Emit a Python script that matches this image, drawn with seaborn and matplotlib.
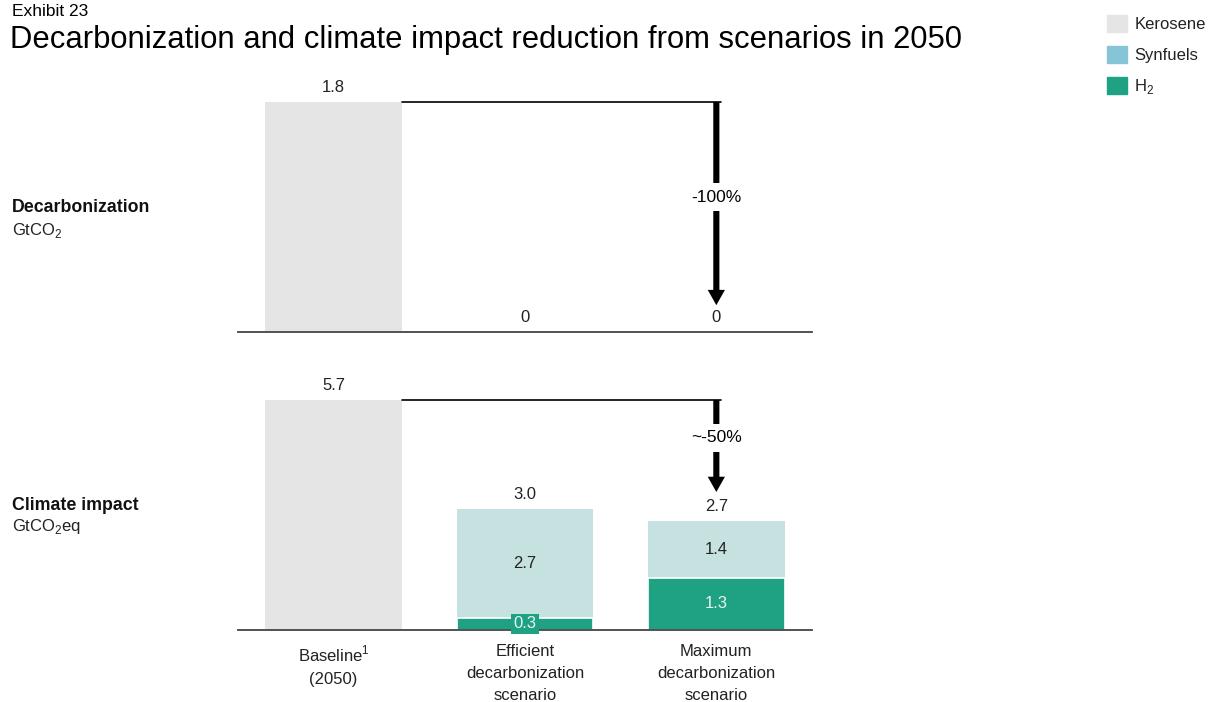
import matplotlib
matplotlib.use('Agg')
import numpy as np
import pandas as pd
import matplotlib.pyplot as plt
import seaborn as sns
from matplotlib.patches import Patch

# data
scenarios = ['Baseline$^1$\n(2050)', 'Efficient\ndecarbonization\nscenario',
             'Maximum\ndecarbonization\nscenario']
decarb_kerosene = [1.8, 0, 0]
decarb_synfuels = [0, 0, 0]
decarb_h2 = [0, 0, 0]
climate_kerosene = [5.7, 0, 0]
climate_synfuels = [0, 2.7, 1.4]
climate_h2 = [0, 0.3, 1.3]
decarb_change = '-100%'
climate_change = '~-50%'

c_kero = '#e5e5e5'
c_syn = '#c5e1e0'
c_syn_leg = '#86c5d6'
c_h2 = '#1fa283'
c_txt = '#222222'

sns.set_theme(style='white')
plt.rcParams['font.family'] = ['Liberation Sans', 'DejaVu Sans']
plt.rcParams['mathtext.fontset'] = 'custom'
plt.rcParams['mathtext.rm'] = 'Liberation Sans'

W, H = 1211, 702
fig = plt.figure(figsize=(W / 100, H / 100), dpi=100)

def px_axes(left, right, bottom, top):
    return fig.add_axes([left / W, 1 - bottom / H, (right - left) / W, (bottom - top) / H])

ax_top = px_axes(238, 812, 332, 80)
ax_bot = px_axes(238, 812, 630, 380)

bar_w = 0.715

def draw_panel(ax, kero, syn, h2, ymax, inner):
    df = pd.DataFrame({'scenario': scenarios, 'kero': kero, 'syn': syn, 'h2': h2})
    df['total'] = df['kero'] + df['syn'] + df['h2']
    df['h2syn'] = df['h2'] + df['syn']
    # stacked bars drawn as cumulative layers
    sns.barplot(data=df, x='scenario', y='total', color=c_kero, width=bar_w,
                saturation=1, ax=ax, edgecolor='white', linewidth=0)
    sns.barplot(data=df, x='scenario', y='h2syn', color=c_syn, width=bar_w,
                saturation=1, ax=ax, edgecolor='white', linewidth=0)
    sns.barplot(data=df, x='scenario', y='h2', color=c_h2, width=bar_w,
                saturation=1, ax=ax, edgecolor='white', linewidth=1.2)
    ax.set_xlim(-0.5, 2.5)
    ax.set_ylim(0, ymax)
    ax.set_xlabel('')
    ax.set_ylabel('')
    ax.set_yticks([])
    for s in ['top', 'left', 'right']:
        ax.spines[s].set_visible(False)
    ax.spines['bottom'].set_color('#444444')
    ax.spines['bottom'].set_linewidth(1.3)
    # totals above bars
    for i, t in enumerate(df['total']):
        lab = '0' if t == 0 else f'{t:.1f}'
        ax.annotate(lab, (i, t), xytext=(0, 5), textcoords='offset points',
                    ha='center', va='bottom', fontsize=12, color=c_txt)
    if inner:
        for i in range(len(df)):
            s, h = df['syn'][i], df['h2'][i]
            if s > 0:
                ax.text(i, h + s / 2, f'{s:.1f}', ha='center', va='center',
                        fontsize=12, color=c_txt)
            if h > 0:
                if h < 0.5:
                    ax.text(i, h / 2, f'{h:.1f}', ha='center', va='center',
                            fontsize=12, color='#e8f4ef',
                            bbox=dict(boxstyle='square,pad=0.15', fc=c_h2, ec='none'))
                else:
                    ax.text(i, h / 2, f'{h:.1f}', ha='center', va='center',
                            fontsize=12, color='#e8f4ef')
    return df

def draw_change(ax, base, tip, label_y, label):
    ax.plot([bar_w / 2, 2.025], [base, base], color='black', lw=1.2, clip_on=False)
    ax.annotate('', xy=(2, tip), xytext=(2, base),
                arrowprops=dict(arrowstyle='simple,head_width=0.62,head_length=0.55,tail_width=0.22',
                                lw=0, fc='black', ec='none', shrinkA=0, shrinkB=0,
                                mutation_scale=20))
    ax.text(2, label_y, label, ha='center', va='center', fontsize=12.5,
            color='black',
            bbox=dict(boxstyle='square,pad=0.35', fc='white', ec='none'))

draw_panel(ax_top, decarb_kerosene, decarb_synfuels, decarb_h2, 1.8 * 252 / 230, False)
draw_panel(ax_bot, climate_kerosene, climate_synfuels, climate_h2, 5.7 * 250 / 230, True)
ax_top.set_xticklabels([])
ax_bot.tick_params(axis='x', length=0, pad=10, labelsize=12, labelcolor=c_txt)
for t in ax_bot.get_xticklabels():
    t.set_linespacing(1.6)

draw_change(ax_top, sum(decarb_kerosene), 0.21, 1.056, decarb_change)
draw_change(ax_bot, sum(climate_kerosene), 3.42, 4.76, climate_change)

# titles
fig.text(12 / W, 1 - 11 / H, 'Exhibit 23', fontsize=12.5, color='black', va='center', ha='left')
fig.text(10 / W, 1 - 40 / H, 'Decarbonization and climate impact reduction from scenarios in 2050',
         fontsize=22.3, color='black', va='center', ha='left')

fig.text(12 / W, 1 - 208 / H, 'Decarbonization', fontsize=12.8, fontweight='bold',
         color='#111111', va='center')
fig.text(12 / W, 1 - 230 / H, 'GtCO$_2$', fontsize=12, color=c_txt, va='center')
fig.text(12 / W, 1 - 505 / H, 'Climate impact', fontsize=12.8, fontweight='bold',
         color='#111111', va='center')
fig.text(12 / W, 1 - 527 / H, 'GtCO$_2$eq', fontsize=12, color=c_txt, va='center')

handles = [Patch(color=c_kero), Patch(color=c_syn_leg), Patch(color=c_h2)]
fig.legend(handles, ['Kerosene', 'Synfuels', 'H$_2$'], loc='upper left',
           bbox_to_anchor=(1107 / W, 1 - 15 / H), frameon=False, fontsize=12,
           handlelength=1.2, handleheight=1.2, handletextpad=0.45, labelspacing=0.83,
           borderaxespad=0, borderpad=0, labelcolor=c_txt)

fig.savefig('out.png', dpi=100)
